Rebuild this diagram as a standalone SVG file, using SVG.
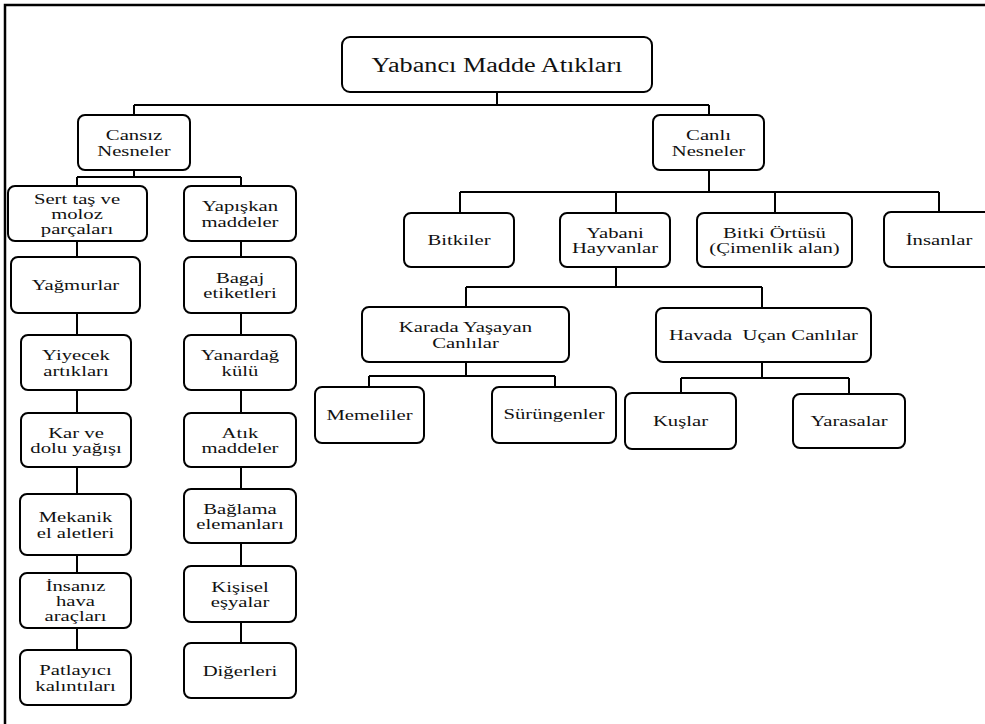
<svg xmlns="http://www.w3.org/2000/svg" width="985" height="724" viewBox="0 0 985 724">
<style>
.box{fill:#fff;stroke:#000;stroke-width:2}
.ln{fill:none;stroke:#000;stroke-width:2}
.fr{fill:none;stroke:#000;stroke-width:2.5}
.t text{font-size:15px;fill:#111;text-anchor:middle}
.t text.big{font-size:20.5px}
</style>
<rect width="985" height="724" fill="#fff"/>
<path class="fr" d="M5,724 V5 H985"/>
<g id="connectors">
<path class="ln" d="M497,92 V105 M134,105 H709 M134,105 V115 M709,105 V115"/>
<path class="ln" d="M134,170 V177 M77,177 H241 M77,177 V186 M241,177 V186"/>
<path class="ln" d="M77,241 V257 M77,313 V335 M77,390 V413 M77,467 V494 M77,555 V573 M77,628 V650"/>
<path class="ln" d="M241,241 V257 M241,313 V335 M241,390 V413 M241,467 V489 M241,543 V566 M241,622 V643"/>
<path class="ln" d="M709,170 V192 M460,192 H939 M460,192 V213 M616,192 V213 M775,192 V213 M939,192 V212"/>
<path class="ln" d="M616,267 V287 M466,287 H762 M466,287 V307 M762,287 V308"/>
<path class="ln" d="M466,362 V376 M369,376 H555 M369,376 V387 M555,376 V387"/>
<path class="ln" d="M762,362 V378 M681,378 H849 M681,378 V393 M849,378 V394"/>
</g>
<g class="t" font-family="Liberation Serif, Times New Roman, serif">
<g id="root"><rect class="box" x="342" y="37" width="310" height="55" rx="8"/><text class="big" transform="translate(497,72) scale(1.28,1)">Yabancı Madde Atıkları</text></g>
<g id="cansiz"><rect class="box" x="78" y="115" width="112" height="55" rx="7"/><text transform="translate(134,140) scale(1.38,1)">Cansız</text><text transform="translate(134,155.5) scale(1.38,1)">Nesneler</text></g>
<g id="canli"><rect class="box" x="653" y="115" width="111" height="55" rx="7"/><text transform="translate(708.5,140) scale(1.38,1)">Canlı</text><text transform="translate(708.5,155.5) scale(1.38,1)">Nesneler</text></g>
<g id="sert"><rect class="box" x="8" y="186" width="139" height="55" rx="7"/><text transform="translate(77,203.5) scale(1.38,1)">Sert taş ve</text><text transform="translate(77,218.5) scale(1.38,1)">moloz</text><text transform="translate(77,233.5) scale(1.38,1)">parçaları</text></g>
<g id="yapiskan"><rect class="box" x="184" y="186" width="112" height="55" rx="7"/><text transform="translate(240,211) scale(1.38,1)">Yapışkan</text><text transform="translate(240,226.5) scale(1.38,1)">maddeler</text></g>
<g id="yagmurlar"><rect class="box" x="11" y="257" width="129" height="56" rx="7"/><text transform="translate(75.5,290) scale(1.38,1)">Yağmurlar</text></g>
<g id="bagaj"><rect class="box" x="184" y="257" width="112" height="56" rx="7"/><text transform="translate(240,282.5) scale(1.38,1)">Bagaj</text><text transform="translate(240,298) scale(1.38,1)">etiketleri</text></g>
<g id="yiyecek"><rect class="box" x="21" y="335" width="110" height="55" rx="7"/><text transform="translate(76,360) scale(1.38,1)">Yiyecek</text><text transform="translate(76,375.5) scale(1.38,1)">artıkları</text></g>
<g id="yanardag"><rect class="box" x="184" y="335" width="112" height="55" rx="7"/><text transform="translate(240,360) scale(1.38,1)">Yanardağ</text><text transform="translate(240,375.5) scale(1.38,1)">külü</text></g>
<g id="kar"><rect class="box" x="21" y="413" width="110" height="54" rx="7"/><text transform="translate(76,437.5) scale(1.38,1)">Kar ve</text><text transform="translate(76,453) scale(1.38,1)">dolu yağışı</text></g>
<g id="atik"><rect class="box" x="184" y="413" width="112" height="54" rx="7"/><text transform="translate(240,437.5) scale(1.38,1)">Atık</text><text transform="translate(240,453) scale(1.38,1)">maddeler</text></g>
<g id="mekanik"><rect class="box" x="20" y="494" width="111" height="61" rx="7"/><text transform="translate(75.5,522) scale(1.38,1)">Mekanik</text><text transform="translate(75.5,537.5) scale(1.38,1)">el aletleri</text></g>
<g id="baglama"><rect class="box" x="184" y="489" width="112" height="54" rx="7"/><text transform="translate(240,513.5) scale(1.38,1)">Bağlama</text><text transform="translate(240,529) scale(1.38,1)">elemanları</text></g>
<g id="insaniz"><rect class="box" x="20" y="573" width="111" height="55" rx="7"/><text transform="translate(75.5,590.5) scale(1.38,1)">İnsanız</text><text transform="translate(75.5,605.5) scale(1.38,1)">hava</text><text transform="translate(75.5,620.5) scale(1.38,1)">araçları</text></g>
<g id="kisisel"><rect class="box" x="184" y="566" width="112" height="56" rx="7"/><text transform="translate(240,591.5) scale(1.38,1)">Kişisel</text><text transform="translate(240,607) scale(1.38,1)">eşyalar</text></g>
<g id="patlayici"><rect class="box" x="20" y="650" width="111" height="55" rx="7"/><text transform="translate(75.5,675) scale(1.38,1)">Patlayıcı</text><text transform="translate(75.5,690.5) scale(1.38,1)">kalıntıları</text></g>
<g id="digerleri"><rect class="box" x="184" y="643" width="112" height="55" rx="7"/><text transform="translate(240,675.5) scale(1.38,1)">Diğerleri</text></g>
<g id="bitkiler"><rect class="box" x="404" y="213" width="110" height="54" rx="7"/><text transform="translate(459,245) scale(1.38,1)">Bitkiler</text></g>
<g id="yabani"><rect class="box" x="560" y="213" width="110" height="54" rx="7"/><text transform="translate(615,237.5) scale(1.38,1)">Yabani</text><text transform="translate(615,253) scale(1.38,1)">Hayvanlar</text></g>
<g id="bitkiortusu"><rect class="box" x="697" y="213" width="155" height="54" rx="7"/><text transform="translate(774.5,237.5) scale(1.38,1)">Bitki Örtüsü</text><text transform="translate(774.5,253) scale(1.38,1)">(Çimenlik alan)</text></g>
<g id="insanlar"><rect class="box" x="884" y="212" width="110" height="55" rx="7"/><text transform="translate(939,244.5) scale(1.38,1)">İnsanlar</text></g>
<g id="karada"><rect class="box" x="362" y="307" width="207" height="55" rx="7"/><text transform="translate(465.5,332) scale(1.38,1)">Karada Yaşayan</text><text transform="translate(465.5,347.5) scale(1.38,1)">Canlılar</text></g>
<g id="havada"><rect class="box" x="656" y="308" width="215" height="54" rx="7"/><text xml:space="preserve" transform="translate(763.5,340) scale(1.38,1)">Havada  Uçan Canlılar</text></g>
<g id="memeliler"><rect class="box" x="315" y="387" width="109" height="56" rx="7"/><text transform="translate(369.5,420) scale(1.38,1)">Memeliler</text></g>
<g id="surungenler"><rect class="box" x="492" y="387" width="124" height="56" rx="7"/><text transform="translate(554,418.5) scale(1.38,1)">Sürüngenler</text></g>
<g id="kuslar"><rect class="box" x="625" y="393" width="111" height="56" rx="7"/><text transform="translate(680.5,426) scale(1.38,1)">Kuşlar</text></g>
<g id="yarasalar"><rect class="box" x="793" y="394" width="112" height="54" rx="7"/><text transform="translate(849,426) scale(1.38,1)">Yarasalar</text></g>
</g>
</svg>
